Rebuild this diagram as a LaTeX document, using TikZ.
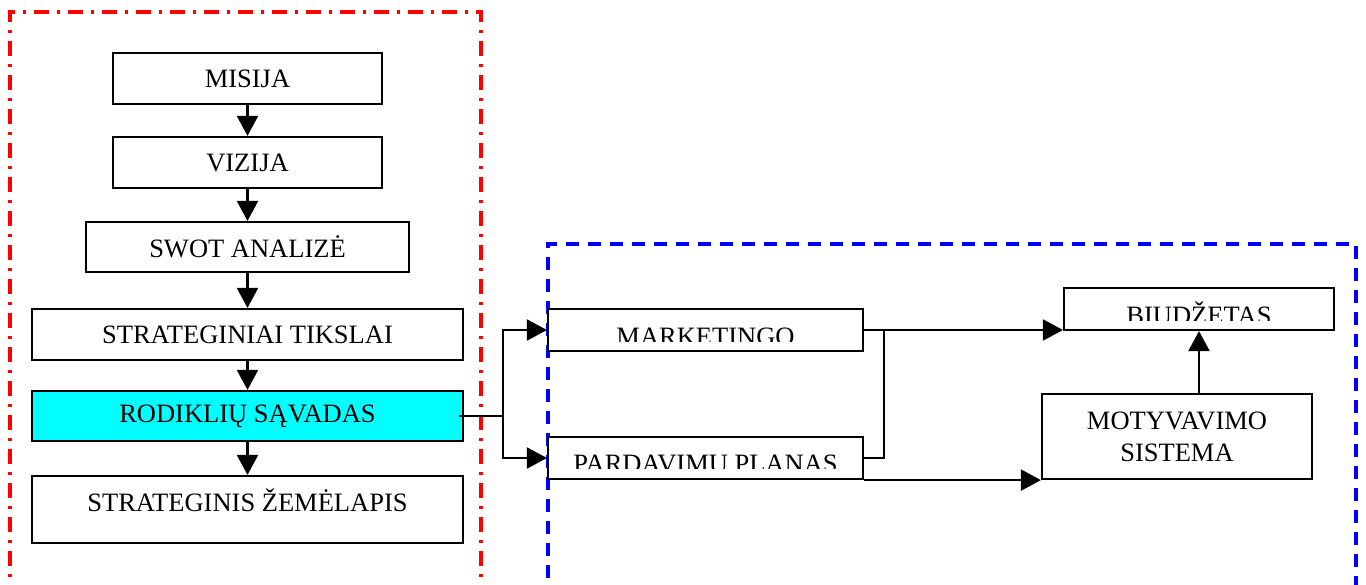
\documentclass[tikz,border=0pt]{standalone}
\usepackage{fontspec}
\setmainfont{Liberation Serif}
\usetikzlibrary{arrows.meta}
\definecolor{aqua}{RGB}{0,255,255}
\begin{document}
\begin{tikzpicture}[x=1pt,y=-1pt,
  box/.style={draw=black,line width=2.2pt,rectangle,inner sep=0pt,fill=white},
  lbl/.style={inner sep=0pt,font=\fontsize{26.5}{32}\selectfont,align=center},
  conn/.style={line width=2.2pt,-{Triangle[length=20pt,width=21pt]}},
  plain/.style={line width=2.2pt},
  redframe/.style={draw=red,line width=3.5pt,dash pattern=on 15pt off 8pt on 3pt off 8pt},
  blueframe/.style={draw=blue,line width=3.5pt,dash pattern=on 13pt off 9pt}]
\useasboundingbox (0,0) rectangle (1366,584);
% frames
\draw[redframe] (10,600) -- (10,12) -- (481,12) -- (481,600);
\draw[blueframe] (548,600) -- (548,244) -- (1356,244) -- (1356,600);
% left column
\node[box,minimum width=269pt,minimum height=51pt] (mis) at (247.5,78.5) {};
\node[lbl] at (mis.center) {MISIJA};
\node[box,minimum width=269pt,minimum height=51pt] (viz) at (247.5,162.5) {};
\node[lbl] at (viz.center) {VIZIJA};
\node[box,minimum width=323pt,minimum height=50pt] (swot) at (247.5,247) {};
\node[lbl] at (swot.center) {SWOT ANALIZĖ};
\node[box,minimum width=431pt,minimum height=51pt] (st) at (247.5,334.5) {};
\node[lbl] at (st.center) {STRATEGINIAI TIKSLAI};
\node[box,fill=aqua,minimum width=431pt,minimum height=50pt] (rod) at (247.5,416) {};
\node[lbl] at (rod.center) {RODIKLIŲ SĄVADAS};
\node[box,minimum width=431pt,minimum height=67pt] (zem) at (247.5,509.5) {};
\node[lbl,anchor=base] at (247.5,511) {STRATEGINIS ŽEMĖLAPIS};
% right part
\node[box,minimum width=315pt,minimum height=42pt] (mark) at (705.5,330) {};
\begin{scope}
\clip (550,311) rectangle (861,341.5);
\node[lbl,anchor=base] at (705.5,345) {MARKETINGO};
\end{scope}
\node[box,minimum width=315pt,minimum height=42pt] (pard) at (705.5,458) {};
\begin{scope}
\clip (550,439) rectangle (861,468.5);
\node[lbl,anchor=base] at (705.5,472) {PARDAVIMU PLANAS};
\end{scope}
\node[box,minimum width=270pt,minimum height=42pt] (biud) at (1199,309) {};
\begin{scope}
\clip (1066,290) rectangle (1332,320);
\node[lbl,anchor=base] at (1199,324) {BIUDŽETAS};
\end{scope}
\node[box,minimum width=270pt,minimum height=85pt] (mot) at (1177,436.5) {};
\node[lbl] at (mot.center) {MOTYVAVIMO\\SISTEMA};
% connectors left column
\draw[conn] (mis.south) -- (viz.north);
\draw[conn] (viz.south) -- (swot.north);
\draw[conn] (swot.south) -- (st.north);
\draw[conn] (st.south) -- (rod.north);
\draw[conn] (rod.south) -- (zem.north);
% branch
\coordinate (rs) at ([xshift=-5pt]rod.east);
\coordinate (bx) at (503,416);
\draw[plain] (rs) -- (bx);
\draw[conn] (bx) |- (mark.west);
\draw[conn] (bx) |- (pard.west);
% right connectors
\draw[conn] (mark.east) -- (mark.east -| biud.west);
\coordinate (jx) at (884,330);
\draw[plain] (pard.east) -| (jx);
\draw[conn] (pard.south east) -- (pard.south east -| mot.west);
\draw[conn] (mot.north -| biud.south) -- (biud.south);
\end{tikzpicture}
\end{document}
